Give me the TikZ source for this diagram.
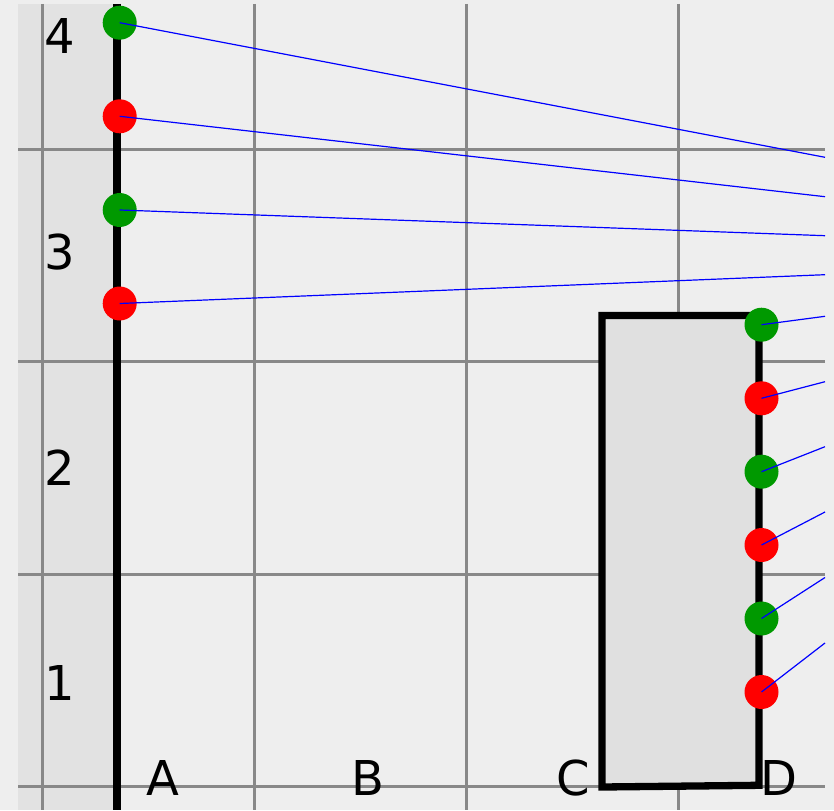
\documentclass[tikz,border=0pt]{standalone}
\usepackage{fontspec}
\setmainfont{DejaVu Sans}
\definecolor{bggray}{HTML}{EEEEEE}
\definecolor{stripgray}{HTML}{E2E2E2}
\definecolor{boxgray}{HTML}{E0E0E0}
\definecolor{gridgray}{HTML}{888888}
\definecolor{pingreen}{HTML}{009900}
\definecolor{pinred}{HTML}{FF0000}

\begin{document}
\begin{tikzpicture}[x=1pt,y=-1pt,
        gridline/.style={gridgray,line width=3pt},
        pin/.style={circle,inner sep=0pt,minimum size=34pt},
        wire/.style={blue,line width=1.2pt},
        lab/.style={font=\fontsize{48}{48}\selectfont}]
        \useasboundingbox (0,0) rectangle (834,810);
        \fill[bggray](0,0) rectangle (834,810);
        \fill[stripgray](18,4) rectangle (117,810);
        % grid
        \foreach \gx in {42,254,466,678} {\draw[gridline](\gx,4) -- (\gx,810);}
        \foreach \gy in {149.5,361.8,574,786} {\draw[gridline](18,\gy) -- (825,\gy);}
        % labels
        \node[lab] (r4) at (59.5,36) {4};
        \node[lab] (r3) at (59.5,252) {3};
        \node[lab] (r2) at (59.5,468) {2};
        \node[lab] (r1) at (59.5,683) {1};
        \node[lab] (cA) at (163,778) {A};
        \node[lab] (cB) at (368,778) {B};
        \node[lab] (cC) at (573,778) {C};
        \node[lab] (cD) at (779,778) {D};
        % left rail and box
        \draw[line width=7.3pt](117,4) -- (117,810);
        \filldraw[line width=7.3pt,fill=boxgray,line join=miter](602,315.5) -- (759,315.5) -- (759,785.3) -- (602,787) -- cycle;
        % pins
        \node[pin,fill=pingreen] (la) at (119.7,22.7) {};
        \node[pin,fill=pinred] (lb) at (119.7,116.3) {};
        \node[pin,fill=pingreen] (lc) at (119.7,210) {};
        \node[pin,fill=pinred] (ld) at (119.7,303.5) {};
        \node[pin,fill=pingreen] (ra) at (761.5,324.7) {};
        \node[pin,fill=pinred] (rb) at (761.5,398.3) {};
        \node[pin,fill=pingreen] (rc) at (761.5,471.7) {};
        \node[pin,fill=pinred] (rd) at (761.5,545) {};
        \node[pin,fill=pingreen] (re) at (761.5,618.5) {};
        \node[pin,fill=pinred] (rf) at (761.5,692) {};
        % wire ends
        \coordinate (ea) at (825,157.3);
        \coordinate (eb) at (825,196.7);
        \coordinate (ec) at (825,235.7);
        \coordinate (ed) at (825,274.7);
        \coordinate (ee) at (825,316.3);
        \coordinate (ef) at (825,381.7);
        \coordinate (eg) at (825,446.7);
        \coordinate (eh) at (825,512);
        \coordinate (ei) at (825,577.5);
        \coordinate (ej) at (825,643);
        % wires
        \draw[wire](la.center) -- (ea);
        \draw[wire](lb.center) -- (eb);
        \draw[wire](lc.center) -- (ec);
        \draw[wire](ld.center) -- (ed);
        \draw[wire](ra.center) -- (ee);
        \draw[wire](rb.center) -- (ef);
        \draw[wire](rc.center) -- (eg);
        \draw[wire](rd.center) -- (eh);
        \draw[wire](re.center) -- (ei);
        \draw[wire](rf.center) -- (ej);
    \end{tikzpicture}
\end{document}
